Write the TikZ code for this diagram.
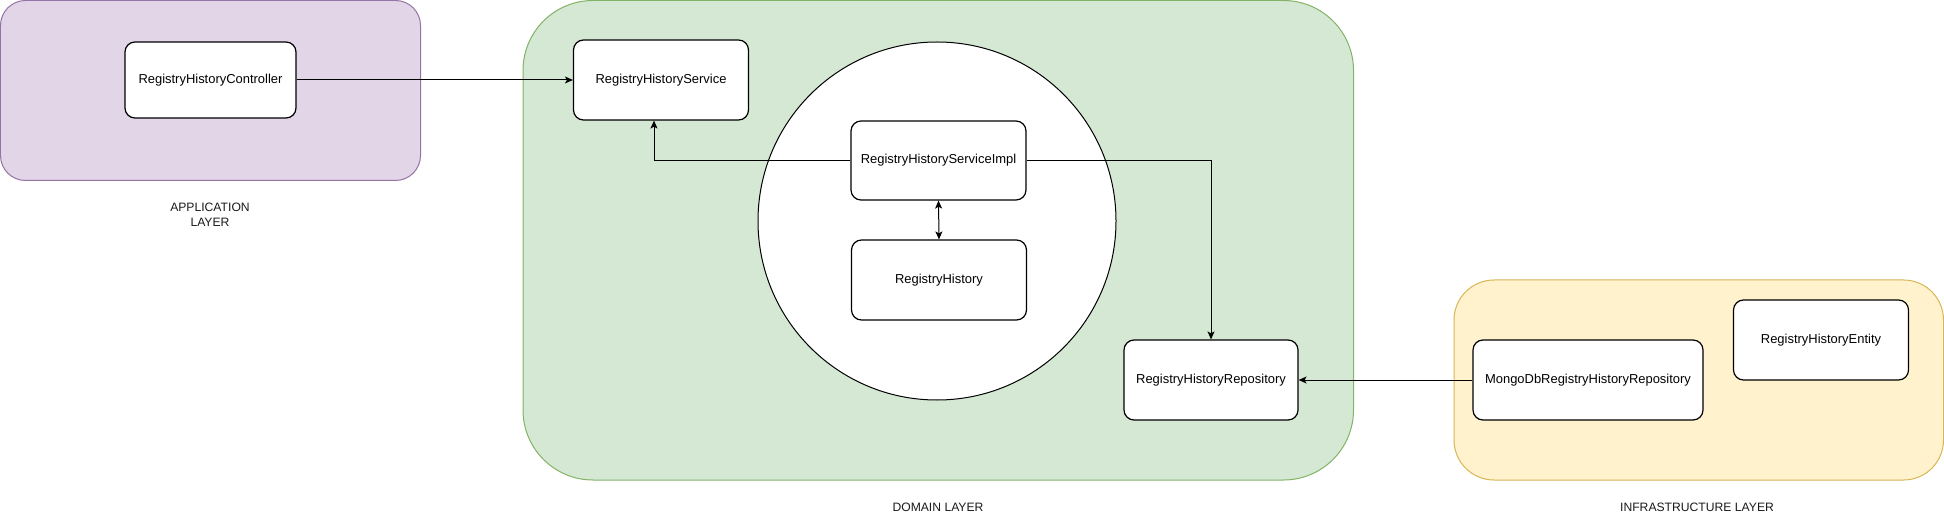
\documentclass[tikz,border=0pt]{standalone}
\usepackage{fontspec}
\setmainfont{Liberation Sans}
\usetikzlibrary{arrows.meta}
\definecolor{appfill}{HTML}{E1D5E7}
\definecolor{appline}{HTML}{9673A6}
\definecolor{domfill}{HTML}{D5E8D4}
\definecolor{domline}{HTML}{82B366}
\definecolor{infill}{HTML}{FFF2CC}
\definecolor{inline}{HTML}{D6B656}
\definecolor{labtext}{HTML}{1A1A1A}
\tikzset{
  layer/.style={line width=1bp},
  classbox/.style={draw=black, fill=white, line width=1.2bp, rounded corners=10bp,
    minimum height=80bp, inner sep=0pt, font=\fontsize{13}{15}\selectfont},
  conn/.style={line width=1bp, -{Stealth[length=8bp,width=7bp,inset=2bp]}},
  biconn/.style={line width=1bp, {Stealth[length=8bp,width=7bp,inset=2bp]}-{Stealth[length=8bp,width=7bp,inset=2bp]}},
  layerlabel/.style={text=labtext, align=center, font=\fontsize{12.2}{15}\selectfont}
}
\begin{document}
\begin{tikzpicture}[x=1bp,y=-1bp]
\useasboundingbox (0,0) rectangle (1944,517);
% layers
\draw[layer, fill=appfill, draw=appline, rounded corners=25bp] (0.5,0.5) rectangle (420.5,180.5);
\draw[layer, fill=domfill, draw=domline, rounded corners=70bp] (523,0.5) rectangle (1353.5,480);
\draw[layer, fill=infill, draw=inline, rounded corners=40bp] (1454,280) rectangle (1943.5,480);
% core circle
\node[draw=black, fill=white, circle, line width=1bp, minimum size=358bp, inner sep=0pt] (core) at (937,221) {};
% classes
\node[classbox, minimum width=171bp, minimum height=76bp] (ctrl) at (210.5,80) {RegistryHistoryController};
\node[classbox, minimum width=175bp] (svc) at (661,80) {RegistryHistoryService};
\node[classbox, minimum width=175bp, minimum height=79bp] (impl) at (938.5,160.5) {RegistryHistoryServiceImpl};
\node[classbox, minimum width=175bp] (rh) at (939,280) {RegistryHistory};
\node[classbox, minimum width=174bp] (repo) at (1211,380) {RegistryHistoryRepository};
\node[classbox, minimum width=230bp] (mongo) at (1588,380) {MongoDbRegistryHistoryRepository};
\node[classbox, minimum width=175bp] (ent) at (1821,340) {RegistryHistoryEntity};
% labels
\node[layerlabel] (applab) at (210,214.5) {APPLICATION\\LAYER};
\node[layerlabel] (domlab) at (938,507) {DOMAIN LAYER};
\node[layerlabel] (inflab) at (1697,507) {INFRASTRUCTURE LAYER};
% connectors
\draw[conn] (ctrl.east) -- (svc.west);
\draw[conn] (impl.west) -| ([xshift=-7bp]svc.south);
\draw[conn] (impl.east) -| (repo.north);
\draw[biconn] (impl.south) -- (rh.north);
\draw[conn] (mongo.west) -- (repo.east);
\end{tikzpicture}
\end{document}
